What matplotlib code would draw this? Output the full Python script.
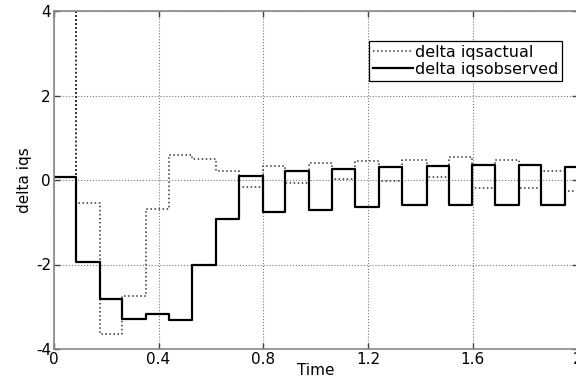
import matplotlib
matplotlib.use("Agg")
import matplotlib.pyplot as plt
from matplotlib.ticker import FuncFormatter

# step instants (s)
step_times = [0.0, 0.086, 0.175, 0.26, 0.353, 0.44, 0.528, 0.618, 0.708, 0.797,
              0.884, 0.975, 1.062, 1.151, 1.24, 1.33, 1.425, 1.51, 1.597, 1.686,
              1.775, 1.86, 1.953]
t_end = 2.0

iqs_observed = [0.08, -1.95, -2.82, -3.29, -3.17, -3.31, -2.0, -0.92, 0.10, -0.76,
                0.22, -0.70, 0.26, -0.64, 0.30, -0.60, 0.34, -0.58, 0.35, -0.60,
                0.35, -0.60, 0.30]

iqs_actual = [0.08, -0.55, -3.64, -2.74, -0.69, 0.58, 0.50, 0.22, -0.17, 0.34,
              -0.06, 0.41, 0.03, 0.46, -0.02, 0.48, 0.08, 0.54, -0.18, 0.48,
              -0.18, 0.22, -0.25]

# single-sample spike of the actual current at the first step
spike_time = 0.086
spike_value = 10.0

xticks = [0, 0.4, 0.8, 1.2, 1.6, 2.0]
yticks = [-4, -2, 0, 2, 4]

# build step series
t_obs = step_times + [t_end]
y_obs = iqs_observed + [iqs_observed[-1]]

t_act = [step_times[0], spike_time] + step_times[1:] + [t_end]
y_act = [iqs_actual[0], spike_value] + iqs_actual[1:] + [iqs_actual[-1]]

fig = plt.figure(figsize=(5.76, 3.81), dpi=100)
ax = fig.add_axes([53.7 / 576, 1 - 349 / 381, 524 / 576, 338 / 381])

ax.step(t_act, y_act, where='post', color='#333333', linestyle=':', linewidth=1.1,
        label='delta iqsactual')
ax.step(t_obs, y_obs, where='post', color='black', linestyle='-', linewidth=1.6,
        label='delta iqsobserved')

ax.set_xlim(0, 2)
ax.set_ylim(-4, 4)
ax.set_xticks(xticks)
ax.set_yticks(yticks)
ax.xaxis.set_major_formatter(FuncFormatter(lambda v, p: '%g' % v))
ax.yaxis.set_major_formatter(FuncFormatter(lambda v, p: '%g' % v))

ax.grid(True, linestyle=':', color='#777777', linewidth=0.8)
for s in ax.spines.values():
    s.set_color('#888888')
    s.set_linewidth(1.2)

ax.tick_params(direction='in', top=True, right=True, length=4, width=1,
               color='#444444', labelsize=11, pad=2)

ax.set_xlabel('Time', fontsize=11, labelpad=-3)
ax.set_ylabel('delta iqs', fontsize=11, labelpad=3)

leg = ax.legend(loc='upper right', bbox_to_anchor=(0.970, 0.911), borderaxespad=0,
                fontsize=11.5, fancybox=False, framealpha=1, edgecolor='black',
                handlelength=2.5, handletextpad=0.1, borderpad=0.25,
                labelspacing=0.1)
leg.get_frame().set_linewidth(0.9)

fig.savefig('out.png', dpi=100)
